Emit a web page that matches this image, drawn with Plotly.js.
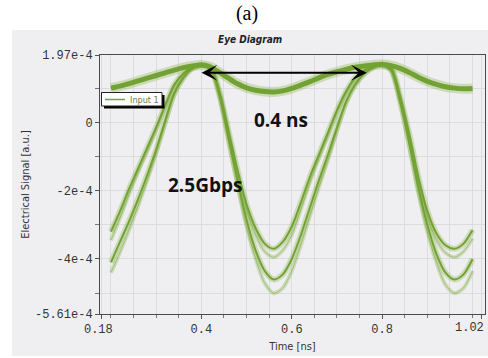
<!DOCTYPE html>
<html>
<head>
<meta charset="utf-8">
<script src="https://cdn.plot.ly/plotly-3.0.1.min.js"></script>
<style>
  html, body { margin: 0; padding: 0; background: #ffffff; }
  #chart { width: 488px; height: 358px; }
</style>
</head>
<body>
<div id="chart"></div>
<script>
// ---- data (signal values in units of 1e-4 a.u.) ----
const timeNs = [0.20,0.22,0.24,0.26,0.28,0.30,0.32,0.34,0.36,0.38,0.40,0.42,0.44,0.46,0.48,0.50,0.52,0.54,0.56,0.58,0.60,0.62,0.64,0.66,0.68,0.70,0.72,0.74,0.76,0.78,0.80,0.82,0.84,0.86,0.88,0.90,0.92,0.94,0.96,0.98,1.00];
// "1-1" high level trace
const highLevel = [1.00,1.06,1.13,1.21,1.29,1.37,1.45,1.53,1.60,1.65,1.68,1.62,1.46,1.29,1.13,1.01,0.94,0.90,0.89,0.92,0.99,1.09,1.19,1.30,1.40,1.48,1.55,1.61,1.65,1.68,1.70,1.66,1.58,1.46,1.32,1.20,1.11,1.04,1.00,0.98,0.99];
// alternating transitions, upper trough band
const swingUpper = [-3.20,-2.60,-1.95,-1.35,-0.75,-0.15,0.50,1.10,1.42,1.60,1.68,1.62,0.90,-0.25,-1.40,-2.40,-3.10,-3.55,-3.70,-3.50,-3.05,-2.35,-1.60,-0.95,-0.30,0.35,0.90,1.30,1.52,1.65,1.68,1.58,0.75,-0.35,-1.60,-2.60,-3.25,-3.60,-3.70,-3.55,-3.15];
const swingUpperNoisy = [-3.45,-2.80,-2.10,-1.45,-0.85,-0.22,0.45,1.05,1.40,1.60,1.68,1.60,0.85,-0.30,-1.50,-2.55,-3.30,-3.78,-3.95,-3.75,-3.30,-2.55,-1.75,-1.05,-0.40,0.28,0.85,1.27,1.50,1.64,1.68,1.56,0.70,-0.42,-1.70,-2.75,-3.45,-3.82,-3.95,-3.78,-3.40];
// alternating transitions, lower trough band
const swingLower = [-4.10,-3.50,-2.90,-2.25,-1.55,-0.80,0.05,0.85,1.30,1.58,1.68,1.58,0.80,-0.45,-1.70,-2.85,-3.75,-4.35,-4.60,-4.45,-4.00,-3.30,-2.50,-1.70,-0.95,-0.15,0.60,1.10,1.42,1.60,1.68,1.52,0.60,-0.60,-1.90,-3.00,-3.85,-4.40,-4.60,-4.45,-4.00];
const swingLowerNoisy = [-4.40,-3.80,-3.15,-2.45,-1.70,-0.90,-0.05,0.80,1.28,1.57,1.68,1.56,0.75,-0.55,-1.85,-3.05,-4.00,-4.70,-5.00,-4.85,-4.35,-3.60,-2.75,-1.90,-1.10,-0.25,0.55,1.08,1.40,1.59,1.68,1.50,0.55,-0.70,-2.05,-3.20,-4.10,-4.75,-5.00,-4.85,-4.35];
const seriesName = 'Input 1';
const xTickVals = [0.18, 0.4, 0.6, 0.8, 1.02];
const xTickText = ['0.18', '0.4', '0.6', '0.8', '1.02'];
const yTickVals = [1.97e-4, 0, -2e-4, -4e-4, -5.61e-4];
const yTickText = ['1.97e-4', '0', '-2e-4', '-4e-4', '-5.61e-4'];
const xRange = [0.1757, 1.0275];
const yRange = [-5.61e-4, 1.97e-4];
const bitPeriodStart = 0.397, bitPeriodEnd = 0.766, arrowLevel = 1.45e-4;

const scale = v => v * 1e-4;
const glow = 'rgba(128,172,64,0.30)';
const core = '#72a233';
const faint = 'rgba(120,166,58,0.5)';

function line(vals, color, width, extra) {
  return Object.assign({x: timeNs, y: vals.map(scale), type: 'scatter', mode: 'lines',
    line: {color: color, width: width, shape: 'spline', smoothing: 0.8},
    hoverinfo: 'skip', showlegend: false, name: seriesName}, extra || {});
}

const data = [
  line(swingLowerNoisy, glow, 4),
  line(swingUpperNoisy, glow, 4),
  line(swingLower, glow, 6),
  line(swingUpper, glow, 6),
  line(highLevel, glow, 10),
  line(swingLowerNoisy, faint, 1),
  line(swingUpperNoisy, faint, 1),
  line(swingLower, core, 2),
  line(swingUpper, core, 2),
  line(highLevel, core, 5)
];

const L = 100, R = 485, T = 55, B = 314;
const W = 488, H = 358;
const px = x => (x - L) / (R - L);
const py = y => (B - y) / (B - T);

const condensed = '"Liberation Sans Narrow", "DejaVu Sans Condensed", "Roboto Condensed", "Liberation Sans", sans-serif';
const mono = '"Liberation Mono", "DejaVu Sans Mono", monospace';
const lastIdx = xTickText.length - 1;
// the end label is drawn right-aligned at the figure edge (as in the original), the first one nudged left
const shownTickText = xTickText.map((t, i) => i === lastIdx ? '' : (i === 0 ? t + '\u00a0' : t));

const layout = {
  width: W, height: H,
  margin: {l: L, r: W - R, t: T, b: H - B, pad: 0},
  paper_bgcolor: '#ffffff',
  plot_bgcolor: '#f3f2f6',
  showlegend: false,
  title: {text: '(a)', font: {family: '"Liberation Serif", "Times New Roman", serif', size: 20, color: '#000'},
          x: 247 / W, xref: 'container', xanchor: 'center', y: 1 - 13 / H, yref: 'container', yanchor: 'middle'},
  xaxis: {
    range: xRange, tickmode: 'array', tickvals: xTickVals, ticktext: shownTickText,
    showgrid: true, gridcolor: '#dcdcdf', gridwidth: 1, zeroline: false,
    showline: true, linecolor: '#4a4a4a', linewidth: 1, mirror: true,
    ticks: 'outside', ticklen: 4, tickcolor: '#555',
    tickfont: {family: mono, size: 12, color: '#333'},
    minor: {tickmode: 'linear', tick0: 0.2, dtick: 0.05, showgrid: true, gridcolor: '#dcdcdf', ticks: 'outside', ticklen: 3, tickcolor: '#777'},
    title: {text: 'Time [ns]', font: {family: condensed, size: 11, color: '#333'}, standoff: 5}
  },
  yaxis: {
    range: yRange, tickmode: 'array', tickvals: yTickVals, ticktext: yTickText,
    showgrid: true, gridcolor: '#dcdcdf', zeroline: false,
    showline: true, linecolor: '#4a4a4a', linewidth: 1, mirror: true,
    ticks: 'outside', ticklen: 4, tickcolor: '#555', ticklabeloverflow: 'allow',
    tickfont: {family: mono, size: 12, color: '#333'},
    minor: {tickmode: 'linear', tick0: 0, dtick: 1e-4, showgrid: true, gridcolor: '#dcdcdf', ticks: 'outside', ticklen: 4, tickcolor: '#777'},
    title: {text: 'Electrical Signal [a.u.]', font: {family: condensed, size: 11, color: '#333'}, standoff: 3}
  },
  shapes: [
    {type: 'rect', xref: 'paper', yref: 'paper', x0: px(12), x1: px(488), y0: py(356), y1: py(30),
     fillcolor: '#efeff1', line: {width: 0}, layer: 'below'},
    // legend box (shadow, frame, line sample)
    {type: 'rect', xref: 'paper', yref: 'paper', x0: px(104), x1: px(164.5), y0: py(108.5), y1: py(95),
     fillcolor: '#000', line: {width: 0}},
    {type: 'rect', xref: 'paper', yref: 'paper', x0: px(101.5), x1: px(162), y0: py(106), y1: py(92.5),
     fillcolor: '#ffffff', line: {color: '#222', width: 1}},
    {type: 'line', xref: 'paper', yref: 'paper', x0: px(105), x1: px(125), y0: py(99.5), y1: py(99.5),
     line: {color: core, width: 1.5}}
  ],
  annotations: [
    {xref: 'paper', yref: 'paper', x: px(250), y: py(40), xanchor: 'center', yanchor: 'middle', text: 'Eye Diagram', showarrow: false,
     font: {family: condensed, size: 10, color: '#222', weight: 'bold', style: 'italic'}},
    {xref: 'paper', yref: 'paper', x: px(128), y: py(99.5), xanchor: 'left', yanchor: 'middle', text: seriesName, showarrow: false,
     font: {family: condensed, size: 9, color: '#6b7d45'}},
    {xref: 'paper', yref: 'paper', x: px(486), y: py(328), xanchor: 'right', yanchor: 'middle', text: xTickText[lastIdx], showarrow: false,
     font: {family: mono, size: 12, color: '#333'}},
    {x: bitPeriodEnd, y: arrowLevel, ax: bitPeriodStart, ay: arrowLevel, axref: 'x', ayref: 'y', xref: 'x', yref: 'y',
     text: '', showarrow: true, arrowhead: 3, startarrowhead: 3, arrowside: 'end+start', arrowsize: 1.2, startarrowsize: 1.2,
     arrowwidth: 2.2, arrowcolor: '#000'},
    {x: 0.576, y: 0.07e-4, text: '0.4 ns', showarrow: false,
     font: {family: '"Open Sans", "Noto Sans", sans-serif', size: 19, color: '#111', weight: 'bold'}},
    {x: 0.407, y: -1.84e-4, text: '2.5Gbps', showarrow: false,
     font: {family: '"Open Sans", "Noto Sans", sans-serif', size: 19, color: '#111', weight: 'bold'}}
  ]
};

Plotly.newPlot('chart', data, layout, {displayModeBar: false, staticPlot: true});
</script>
</body>
</html>
